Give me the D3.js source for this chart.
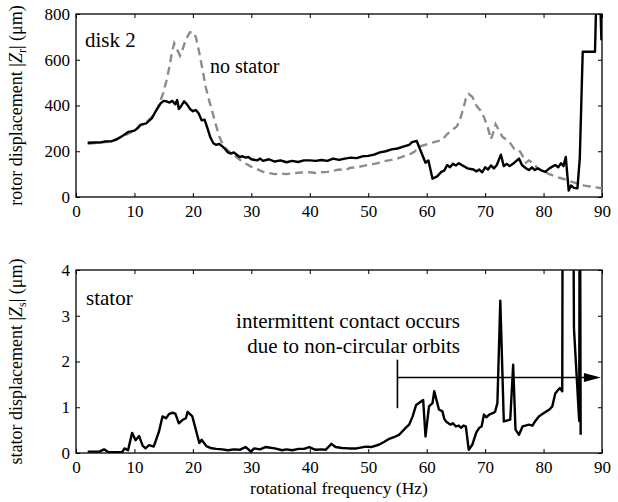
<!DOCTYPE html>
<html>
<head>
<meta charset="utf-8">
<script src="https://cdn.jsdelivr.net/npm/d3@7"></script>
<style>
  body { margin: 0; background: #fff; }
  .tick line { stroke: #000; stroke-width: 1; }
</style>
</head>
<body>
<svg width="618" height="502"></svg>
<script>
const width = 618;
const height = 502;

const svg = d3.select('svg');

// top panel: rotor displacement, disk 2 (Hz, um)
const rotorFreq = [2, 3, 4, 5, 6, 7, 8, 9, 10, 10.5, 11, 12, 13, 13.7, 14.5, 15, 15.5, 16, 16.5, 17, 17.3, 17.6, 18, 18.5, 19, 19.5, 20, 20.5, 21, 21.5, 22, 22.5, 23, 23.5, 24, 24.5, 25, 25.5, 26, 26.5, 27, 27.5, 28, 28.5, 29, 29.5, 30, 31, 31.5, 32, 33, 34, 35, 36, 37, 38, 39, 40, 41, 42, 43, 44, 45, 46, 47, 48, 49, 50, 51, 52, 53, 54, 55, 56, 57, 57.5, 58.3, 59, 59.8, 60.3, 61, 61.8, 62.5, 63, 63.5, 64, 64.5, 65, 65.5, 66, 67, 68, 68.5, 69, 69.5, 70, 70.5, 71, 71.5, 72, 72.7, 73.2, 73.7, 74.2, 75, 75.8, 76.3, 77, 77.5, 78, 78.5, 79, 79.5, 80.3, 81, 82, 82.5, 83, 83.4, 83.8, 84.3, 84.7, 85.2, 85.8, 86.2, 86.7, 88.8, 89.1, 89.6, 89.9];
const rotorDisp = [237, 238, 238, 243, 243, 252, 268, 285, 290, 300, 315, 322, 345, 378, 410, 420, 418, 413, 420, 405, 424, 385, 398, 418, 405, 385, 375, 380, 365, 335, 338, 300, 260, 235, 228, 232, 222, 210, 195, 190, 195, 185, 175, 178, 172, 175, 165, 160, 168, 158, 165, 155, 160, 152, 158, 153, 160, 160, 158, 162, 158, 168, 162, 168, 172, 170, 178, 180, 185, 195, 200, 208, 212, 220, 228, 240, 245, 200, 150, 160, 80, 90, 110, 115, 140, 130, 145, 138, 148, 140, 125, 120, 112, 120, 108, 130, 120, 138, 125, 140, 185, 135, 145, 135, 150, 168, 140, 125, 118, 130, 118, 125, 118, 110, 125, 140, 130, 148, 135, 175, 28, 50, 40, 38, 170, 635, 635, 950, 950, 685];

// top panel: no stator reference
const freeFreq = [2, 4, 6, 8, 10, 11, 12, 13, 14, 14.9, 15.5, 16, 16.4, 16.8, 17.3, 17.8, 18.3, 18.8, 19.5, 20, 20.5, 21.1, 21.7, 22.2, 22.8, 23.4, 24, 24.5, 25.1, 25.7, 26.5, 27.4, 28.2, 29.1, 30, 30.8, 32, 33, 34, 35, 36, 37, 38, 39, 40, 41, 42, 43, 44, 45, 46, 47, 48, 49, 50, 51, 52, 53, 54, 55, 56, 57, 58, 58.7, 60, 61, 62, 62.7, 63.5, 64.5, 65.2, 65.8, 66.3, 66.7, 67.2, 67.8, 68.5, 69.2, 69.8, 70.5, 71, 71.5, 71.8, 72.4, 73, 73.8, 74.4, 75, 75.8, 76.3, 77, 77.5, 78.1, 79, 80, 81, 82, 83, 84, 85, 86, 87, 88, 89, 90];
const freeDisp = [233, 237, 243, 265, 290, 312, 325, 350, 390, 453, 510, 570, 630, 672, 645, 618, 650, 690, 720, 722, 700, 630, 550, 480, 420, 366, 310, 265, 230, 210, 192, 176, 160, 145, 132, 124, 110, 105, 100, 102, 100, 103, 106, 108, 108, 105, 108, 110, 115, 120, 118, 128, 130, 135, 140, 145, 150, 158, 162, 168, 178, 184, 200, 220, 230, 238, 245, 250, 275, 295, 310, 345, 390, 430, 450, 438, 400, 378, 350, 300, 252, 290, 318, 290, 262, 248, 232, 210, 205, 185, 150, 160, 150, 125, 110, 100, 90, 82, 74, 65, 57, 50, 46, 42, 38];

// bottom panel: stator displacement (um)
const statorFreq = [2, 3, 4, 4.8, 5.5, 7, 7.9, 8.3, 8.9, 9.6, 10.2, 10.8, 11.4, 11.9, 12.5, 13.3, 14.2, 14.8, 15.4, 15.9, 16.5, 17, 17.6, 18.2, 18.8, 19.1, 19.5, 19.9, 20.5, 21.1, 21.5, 22.3, 23, 24, 25, 26, 27, 28, 29, 29.5, 29.9, 30.5, 31.5, 32.4, 33, 34, 35.3, 36, 37, 38.1, 39, 39.9, 41, 42, 42.7, 43.7, 44.4, 45.5, 46.7, 48, 49.6, 50.5, 51.8, 52.7, 53.6, 54.5, 55.3, 56.4, 57, 57.6, 58.2, 59.4, 59.8, 60.4, 61, 61.3, 61.7, 62.1, 62.7, 63, 63.3, 64.1, 64.5, 65, 65.5, 65.9, 66.3, 66.7, 67.2, 67.8, 68.5, 69, 69.4, 69.8, 70.2, 70.7, 71.3, 71.7, 72.1, 72.6, 73.2, 74.3, 74.8, 75.2, 75.8, 76.4, 76.9, 77.5, 78.1, 78.6, 79.2, 79.8, 80.4, 81, 81.5, 82, 82.3, 82.8, 83.2, 83.3, 85.0, 85.2, 86.1, 86.2, 86.35];
const statorDisp = [0.03, 0.03, 0.03, 0.08, 0.02, 0.02, 0.02, 0.1, 0.06, 0.44, 0.28, 0.37, 0.16, 0.1, 0.17, 0.14, 0.47, 0.8, 0.76, 0.85, 0.88, 0.86, 0.65, 0.72, 0.76, 0.9, 0.85, 0.8, 0.51, 0.22, 0.29, 0.15, 0.11, 0.09, 0.08, 0.06, 0.08, 0.07, 0.13, 0.08, 0.03, 0.1, 0.08, 0.13, 0.12, 0.1, 0.06, 0.08, 0.06, 0.09, 0.09, 0.13, 0.07, 0.08, 0.07, 0.2, 0.13, 0.11, 0.1, 0.1, 0.14, 0.13, 0.18, 0.24, 0.31, 0.35, 0.4, 0.55, 0.62, 0.8, 1.05, 1.16, 0.36, 1.02, 1.09, 1.35, 1.15, 0.95, 0.91, 0.75, 0.69, 0.62, 0.65, 0.58, 0.6, 0.55, 0.6, 0.58, 0.07, 0.18, 0.45, 0.55, 0.58, 0.84, 0.78, 0.84, 0.87, 0.9, 1.09, 3.33, 0.69, 0.73, 1.93, 0.51, 0.4, 0.58, 0.6, 0.62, 0.6, 0.7, 0.8, 0.85, 0.9, 0.95, 1.02, 1.3, 1.35, 1.42, 1.35, 8, 8, 2.73, 0.7, 8, 0.4];

const xTicks = [0, 10, 20, 30, 40, 50, 60, 70, 80, 90];
const rotorTicks = [0, 200, 400, 600, 800];
const statorTicks = [0, 1, 2, 3, 4];

const serif = "'Liberation Serif', 'Times New Roman', Times, serif";
const left = 76, right = 602;

const x = d3.scaleLinear().domain([0, 90]).range([left, right]);
const yTop = d3.scaleLinear().domain([0, 800]).range([197, 14]);
const yBot = d3.scaleLinear().domain([0, 4]).range([453, 270]);

function zip(a, b) { return a.map((d, i) => [d, b[i]]); }

function panel(id, y, yTicks) {
  const g = svg.append('g');
  const [y0, y1] = y.range();

  g.append('clipPath').attr('id', id)
    .append('rect').attr('x', left).attr('y', y1)
    .attr('width', right - left).attr('height', y0 - y1);

  // inward ticks on all four sides
  g.append('g').attr('transform', `translate(0,${y0})`)
    .call(d3.axisBottom(x).tickValues(xTicks).tickSize(-4).tickSizeOuter(0).tickPadding(8));
  g.append('g').attr('transform', `translate(0,${y1})`)
    .call(d3.axisTop(x).tickValues(xTicks).tickSize(-4).tickSizeOuter(0).tickFormat(''));
  g.append('g').attr('transform', `translate(${left},0)`)
    .call(d3.axisLeft(y).tickValues(yTicks).tickSize(-4).tickSizeOuter(0).tickPadding(6)
      .tickFormat(d3.format('d')));
  g.append('g').attr('transform', `translate(${right},0)`)
    .call(d3.axisRight(y).tickValues(yTicks).tickSize(-4).tickSizeOuter(0).tickFormat(''));

  g.selectAll('.domain').remove();
  g.selectAll('.tick text').style('font-size', '17px');

  g.append('rect')
    .attr('x', left).attr('y', y1)
    .attr('width', right - left).attr('height', y0 - y1)
    .style('fill', 'none').style('stroke', '#000').style('stroke-width', 1.3);

  return g;
}

const line = (y) => d3.line().x(d => x(d[0])).y(d => y(d[1]));

// ---- top panel
const gTop = panel('clipTop', yTop, rotorTicks);

gTop.append('path')
  .datum(zip(freeFreq, freeDisp))
  .attr('clip-path', 'url(#clipTop)')
  .attr('d', line(yTop))
  .style('fill', 'none')
  .style('stroke', '#8c8c8c')
  .style('stroke-width', 2.4)
  .style('stroke-dasharray', '8,5');

gTop.append('path')
  .datum(zip(rotorFreq, rotorDisp))
  .attr('clip-path', 'url(#clipTop)')
  .attr('d', line(yTop))
  .style('fill', 'none')
  .style('stroke', '#000')
  .style('stroke-width', 2.4)
  .style('stroke-linejoin', 'round');

gTop.append('text')
  .attr('x', 85).attr('y', 47)
  .style('font-size', '21px')
  .text('disk 2');

gTop.append('text')
  .attr('x', 210).attr('y', 73)
  .style('font-size', '20px')
  .text('no stator');

// y label with |Z_r|
const labTop = svg.append('text')
  .attr('transform', `translate(22,${(yTop.range()[0] + yTop.range()[1]) / 2}) rotate(-90)`)
  .attr('text-anchor', 'middle')
  .style('font-size', '18px');
labTop.append('tspan').text('rotor displacement |');
labTop.append('tspan').style('font-style', 'italic').text('Z');
labTop.append('tspan').attr('dy', 4).style('font-size', '12px').text('r');
labTop.append('tspan').attr('dy', -4).text('| (μm)');

// ---- bottom panel
const gBot = panel('clipBot', yBot, statorTicks);

gBot.append('path')
  .datum(zip(statorFreq, statorDisp))
  .attr('clip-path', 'url(#clipBot)')
  .attr('d', line(yBot))
  .style('fill', 'none')
  .style('stroke', '#000')
  .style('stroke-width', 2.4)
  .style('stroke-linejoin', 'round');

gBot.append('text')
  .attr('x', 86).attr('y', 305)
  .style('font-size', '21px')
  .text('stator');

gBot.append('text')
  .attr('x', 460).attr('y', 328)
  .attr('text-anchor', 'end')
  .style('font-size', '21px')
  .text('intermittent contact occurs');

gBot.append('text')
  .attr('x', 460).attr('y', 353)
  .attr('text-anchor', 'end')
  .style('font-size', '21px')
  .text('due to non-circular orbits');

// contact range marker and arrow
gBot.append('line')
  .attr('x1', x(55)).attr('x2', x(55))
  .attr('y1', yBot(2.04)).attr('y2', yBot(0.98))
  .style('stroke', '#000').style('stroke-width', 1.6);

gBot.append('line')
  .attr('x1', x(55)).attr('x2', x(87))
  .attr('y1', yBot(1.65)).attr('y2', yBot(1.65))
  .style('stroke', '#000').style('stroke-width', 1.6);

gBot.append('path')
  .attr('d', `M${x(89.8)},${yBot(1.65)} L${x(86.9)},${yBot(1.65) - 4.5} L${x(86.9)},${yBot(1.65) + 4.5} Z`)
  .style('fill', '#000');

const labBot = svg.append('text')
  .attr('transform', `translate(22,${(yBot.range()[0] + yBot.range()[1]) / 2}) rotate(-90)`)
  .attr('text-anchor', 'middle')
  .style('font-size', '18px');
labBot.append('tspan').text('stator displacement |');
labBot.append('tspan').style('font-style', 'italic').text('Z');
labBot.append('tspan').attr('dy', 4).style('font-size', '12px').text('s');
labBot.append('tspan').attr('dy', -4).text('| (μm)');

svg.append('text')
  .attr('x', (left + right) / 2).attr('y', 494)
  .attr('text-anchor', 'middle')
  .style('font-size', '17.5px')
  .text('rotational frequency (Hz)');

// every label in the serif face of the original figure
svg.selectAll('text')
  .style('font-family', serif)
  .style('fill', '#000');
</script>
</body>
</html>
